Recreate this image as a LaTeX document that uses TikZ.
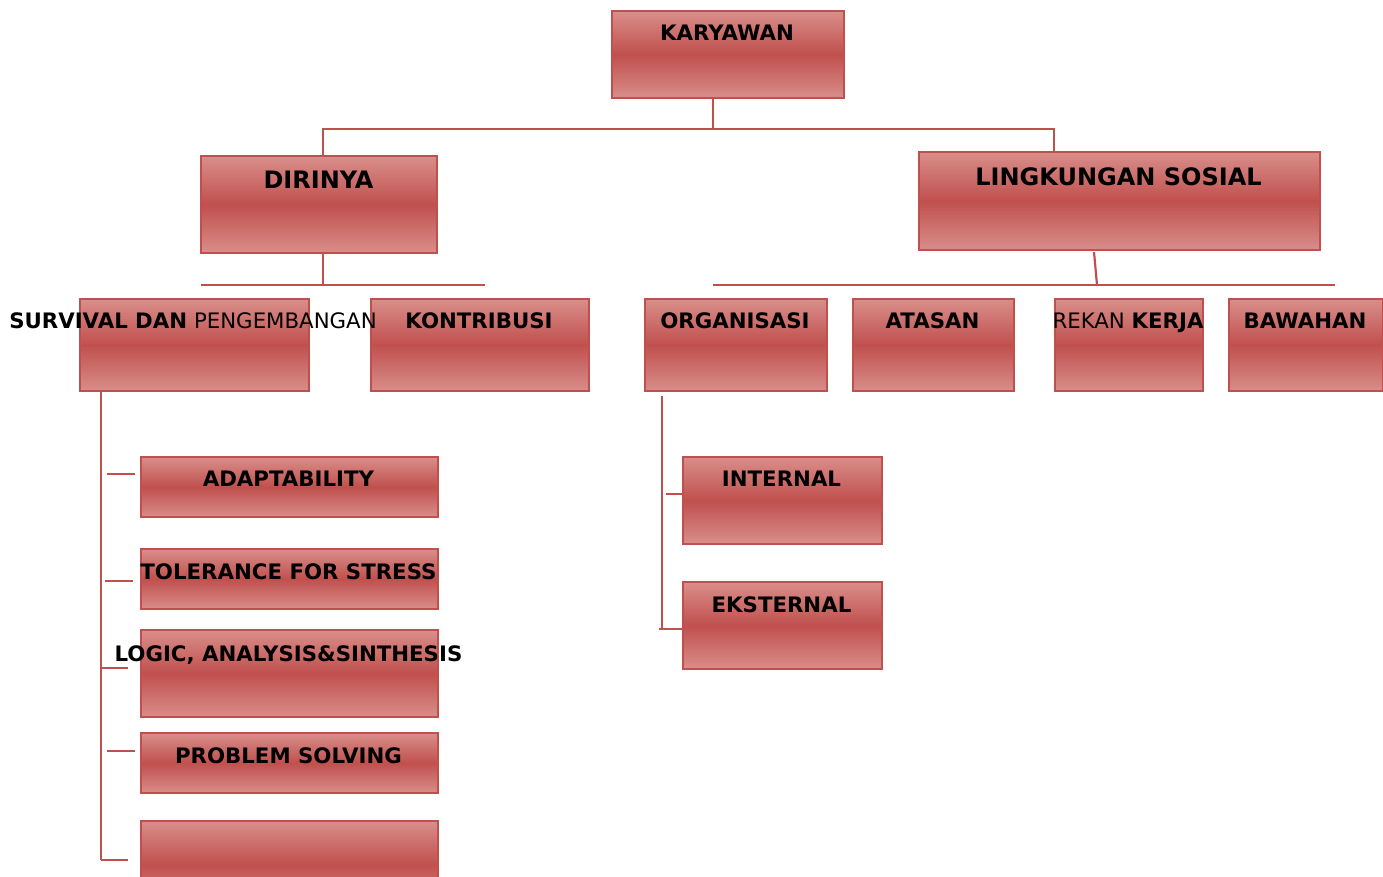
\documentclass[tikz,border=0pt]{standalone}
\usepackage{fontspec}
\setmainfont{DejaVu Sans}
\definecolor{bordc}{HTML}{C0504D}
\definecolor{midc}{HTML}{C0504D}
\definecolor{lightc}{HTML}{D98E8B}
\begin{document}
\begin{tikzpicture}[x=1pt,y=-1pt]
\tikzset{
  box/.style={draw=bordc, line width=2.2pt, top color=lightc, bottom color=lightc, middle color=midc, inner sep=0pt, anchor=north west},
  lbl/.style={inner sep=0pt, anchor=base, font=\fontsize{21.3}{25}\selectfont},
  lblbig/.style={inner sep=0pt, anchor=base, font=\fontsize{24}{28}\selectfont\bfseries},
  conn/.style={draw=bordc, line width=2.2pt}
}
\useasboundingbox (0,0) rectangle (1383,876);
\clip (0,0) rectangle (1383,876);
% connectors
\draw[conn] (713,97) -- (713,129);
\draw[conn] (323,155) -- (323,129) -- (1054,129) -- (1054,151);
\draw[conn] (323,249) -- (323,285);
\draw[conn] (201,285) -- (485,285);
\draw[conn] (1094,252) -- (1097,285);
\draw[conn] (713,285) -- (1335,285);
\draw[conn] (101,390) -- (101,860);
\draw[conn] (107,474) -- (135,474);
\draw[conn] (105,581) -- (133,581);
\draw[conn] (101,668) -- (128,668);
\draw[conn] (107,751) -- (135,751);
\draw[conn] (101,860) -- (128,860);
\draw[conn] (662,396) -- (662,630);
\draw[conn] (666,494) -- (682,494);
\draw[conn] (659,629) -- (682,629);
% boxes
\node[box, minimum width=232pt, minimum height=87pt] (kar) at (611,10) {};
\node[box, minimum width=236pt, minimum height=97pt] (dir) at (200,155) {};
\node[box, minimum width=401pt, minimum height=98pt] (lin) at (918,151) {};
\node[box, minimum width=229pt, minimum height=92pt] (sur) at (79,298) {};
\node[box, minimum width=218pt, minimum height=92pt] (kon) at (370,298) {};
\node[box, minimum width=182pt, minimum height=92pt] (org) at (644,298) {};
\node[box, minimum width=161pt, minimum height=92pt] (ata) at (852,298) {};
\node[box, minimum width=148pt, minimum height=92pt] (rek) at (1054,298) {};
\node[box, minimum width=154pt, minimum height=92pt] (baw) at (1228,298) {};
\node[box, minimum width=297pt, minimum height=60pt] (ada) at (140,456) {};
\node[box, minimum width=297pt, minimum height=60pt] (tol) at (140,548) {};
\node[box, minimum width=297pt, minimum height=87pt] (log) at (140,629) {};
\node[box, minimum width=297pt, minimum height=60pt] (pro) at (140,732) {};
\node[box, minimum width=297pt, minimum height=87pt] (emp) at (140,820) {};
\node[box, minimum width=199pt, minimum height=87pt] (int) at (682,456) {};
\node[box, minimum width=199pt, minimum height=87pt] (eks) at (682,581) {};
% labels
\node[lbl] (tkar) at (727,40) {\textbf{KARYAWAN}};
\node[lblbig] (tdir) at (318.5,188) {DIRINYA};
\node[lblbig] (tlin) at (1118.5,185) {LINGKUNGAN SOSIAL};
\node[lbl] (tsur) at (193,328) {\textbf{SURVIVAL DAN} PENGEMBANGAN};
\node[lbl] (tkon) at (479,328) {\textbf{KONTRIBUSI}};
\node[lbl] (torg) at (735,328) {\textbf{ORGANISASI}};
\node[lbl] (tata) at (932.5,328) {\textbf{ATASAN}};
\node[lbl] (trek) at (1128,328) {REKAN \textbf{KERJA}};
\node[lbl] (tbaw) at (1305,328) {\textbf{BAWAHAN}};
\node[lbl] (tada) at (288.5,486) {\textbf{ADAPTABILITY}};
\node[lbl] (ttol) at (288.5,579) {\textbf{TOLERANCE FOR STRESS}};
\node[lbl] (tlog) at (288.5,661) {\textbf{LOGIC, ANALYSIS\&SINTHESIS}};
\node[lbl] (tpro) at (288.5,763) {\textbf{PROBLEM SOLVING}};
\node[lbl] (tint) at (781.5,486) {\textbf{INTERNAL}};
\node[lbl] (teks) at (781.5,612) {\textbf{EKSTERNAL}};
\end{tikzpicture}
\end{document}
